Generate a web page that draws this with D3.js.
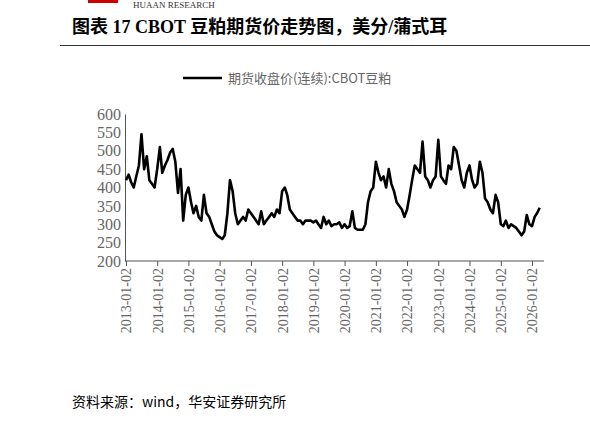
<!DOCTYPE html><html><head><meta charset="utf-8"><script src="https://cdn.jsdelivr.net/npm/d3@7"></script>
<style>body{margin:0;background:#fff}</style></head><body><svg id="c" width="590" height="423"></svg>
<script>
const years=[2013,2014,2015,2016,2017,2018,2019,2020,2021,2022,2023,2024,2025,2026];
const monthlyValues=[
[420,435,415,400,430,460,545,450,485,420,410,400],
[450,510,440,460,475,495,505,470,385,450,310,380],
[400,360,330,350,320,310,380,330,320,300,280,270],
[265,260,270,330,420,390,330,300,310,320,310,340],
[330,320,310,300,335,300,310,320,330,320,340,330],
[390,400,380,340,330,320,310,310,300,310,310,310],
[305,310,300,290,320,300,310,295,300,300,305,290],
[300,290,295,335,290,285,285,285,300,360,390,400],
[470,440,420,430,400,450,410,390,360,350,340,320],
[340,380,420,460,450,440,525,430,420,400,420,430],
[530,430,420,410,460,450,510,500,460,420,400,440],
[460,420,400,410,470,440,370,360,340,330,380,360],
[300,295,310,290,300,295,290,280,270,280,325,300],
[295,320,330,345]];
const yTicks=[200,250,300,350,400,450,500,550,600];
const tickLabels=years.map(y=>y+"-01-02");
const data=[];monthlyValues.forEach((arr,i)=>arr.forEach((v,m)=>data.push({d:new Date(years[i],m,2),v})));
const svg=d3.select("#c");
const x=d3.scaleTime().domain([new Date(2013,0,2),new Date(2026,0,2)]).range([126,532]);
const y=d3.scaleLinear().domain([200,600]).range([261,114]);
svg.append("rect").attr("x",88).attr("y",0).attr("width",30).attr("height",3).attr("fill","#c00");
svg.append("text").attr("x",133).attr("y",8).attr("font-family","Liberation Serif").attr("font-size",9).attr("fill","#333").text("HUAAN RESEARCH");
svg.append("text").attr("x",72).attr("y",33).attr("font-family","Liberation Serif, Noto Sans CJK SC").attr("font-weight","bold").attr("font-size",18).text("图表 17 CBOT 豆粕期货价走势图，美分/蒲式耳");
svg.append("line").attr("x1",60).attr("x2",590).attr("y1",45.5).attr("y2",45.5).attr("stroke","#333");
svg.append("line").attr("x1",183).attr("x2",222).attr("y1",78).attr("y2",78).attr("stroke","#000").attr("stroke-width",2.5);
svg.append("text").attr("x",228).attr("y",83).attr("font-family","Noto Sans CJK SC").attr("font-size",13).attr("fill","#666").text("期货收盘价(连续):CBOT豆粕");
const ya=svg.append("g").attr("transform","translate(125,0)").call(d3.axisLeft(y).tickValues(yTicks).tickSize(0).tickPadding(4));
ya.selectAll("text").attr("font-family","Liberation Serif").attr("font-size",16).attr("fill","#666");
ya.select(".domain").attr("stroke","#555");
const xa=svg.append("g").attr("transform","translate(0,261)").call(d3.axisBottom(x).tickValues(years.map(y=>new Date(y,0,2))).tickSize(5).tickFormat((d,i)=>tickLabels[i]));
xa.select(".domain").attr("stroke","#555").attr("d","M125,0H544");
xa.selectAll("line").attr("stroke","#555");
xa.selectAll("text").attr("font-family","Liberation Serif").attr("font-size",14).attr("fill","#666").attr("transform","rotate(-90)").attr("text-anchor","end").attr("dx","-7").attr("dy","0.35em").attr("x",0).attr("y",0);
svg.append("path").datum(data).attr("fill","none").attr("stroke","#000").attr("stroke-width",2.6).attr("stroke-linejoin","round").attr("d",d3.line().x(d=>x(d.d)).y(d=>y(d.v)));
svg.append("text").attr("x",72).attr("y",407).attr("font-family","Noto Sans CJK SC").attr("font-size",14).text("资料来源：wind，华安证券研究所");
</script></body></html>
